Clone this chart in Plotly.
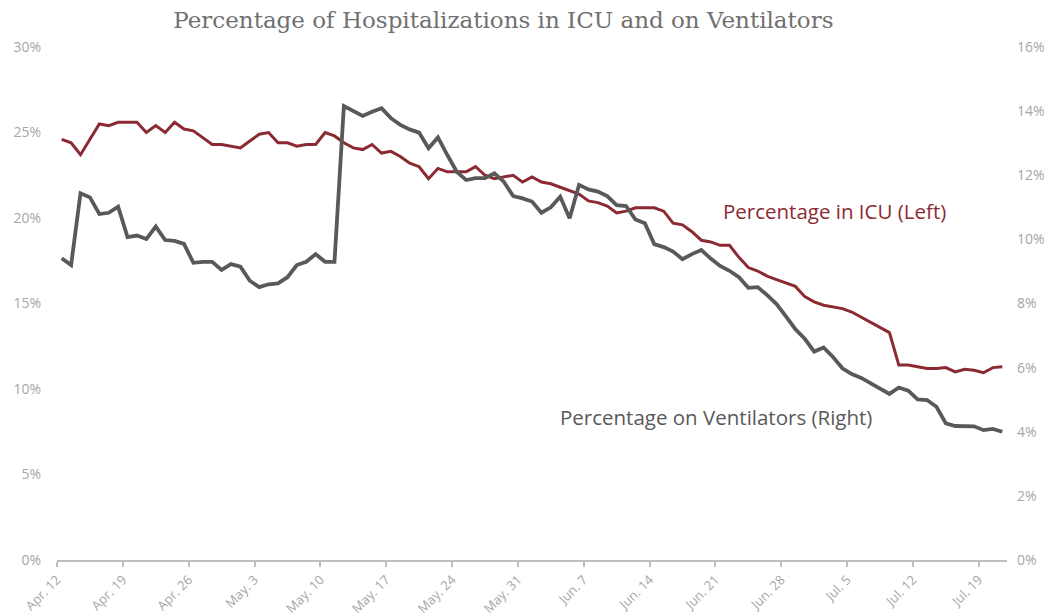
import pandas as pd
import plotly.graph_objects as go

dates = pd.date_range("2020-04-12", periods=101, freq="D")

icu_pct = [
    24.6, 24.4, 23.7, 24.6, 25.5, 25.4, 25.6, 25.6, 25.6, 25.0,
    25.4, 25.0, 25.6, 25.2, 25.1, 24.7, 24.3, 24.3, 24.2, 24.1,
    24.5, 24.9, 25.0, 24.4, 24.4, 24.2, 24.3, 24.3, 25.0, 24.8,
    24.4, 24.1, 24.0, 24.3, 23.8, 23.9, 23.6, 23.2, 23.0, 22.3,
    22.9, 22.7, 22.7, 22.7, 23.0, 22.5, 22.3, 22.4, 22.5, 22.1,
    22.4, 22.1, 22.0, 21.8, 21.6, 21.4, 21.0, 20.9, 20.7, 20.3,
    20.4, 20.6, 20.6, 20.6, 20.4, 19.7, 19.6, 19.2, 18.7, 18.6,
    18.4, 18.4, 17.7, 17.1, 16.9, 16.6, 16.4, 16.2, 16.0, 15.4,
    15.1, 14.9, 14.8, 14.7, 14.5, 14.2, 13.9, 13.6, 13.3, 11.4,
    11.4, 11.3, 11.2, 11.2, 11.25, 11.0, 11.15, 11.1, 10.95, 11.25,
    11.3,
]

vent_pct = [
    9.41, 9.20, 11.44, 11.31, 10.79, 10.83, 11.02, 10.07, 10.12, 10.01,
    10.40, 9.98, 9.95, 9.86, 9.27, 9.30, 9.30, 9.05, 9.23, 9.15,
    8.71, 8.51, 8.60, 8.63, 8.82, 9.20, 9.30, 9.54, 9.30, 9.30,
    14.16, 14.02, 13.85, 13.98, 14.09, 13.78, 13.57, 13.43, 13.33, 12.84,
    13.18, 12.63, 12.11, 11.85, 11.91, 11.91, 12.06, 11.80, 11.35, 11.28,
    11.18, 10.83, 11.00, 11.33, 10.66, 11.70, 11.56, 11.49, 11.35, 11.07,
    11.04, 10.62, 10.50, 9.85, 9.76, 9.62, 9.38, 9.54, 9.67, 9.40,
    9.17, 9.02, 8.82, 8.49, 8.51, 8.26, 7.98, 7.60, 7.20, 6.90,
    6.50, 6.63, 6.33, 5.98, 5.80, 5.68, 5.52, 5.36, 5.18, 5.38,
    5.28, 5.01, 4.99, 4.78, 4.26, 4.18, 4.18, 4.17, 4.05, 4.09,
    4.00,
]

tick_labels = [
    "Apr. 12", "Apr. 19", "Apr. 26", "May. 3", "May. 10", "May. 17", "May. 24",
    "May. 31", "Jun. 7", "Jun. 14", "Jun. 21", "Jun. 28", "Jul. 5", "Jul. 12", "Jul. 19",
]
left_ticks = [0, 5, 10, 15, 20, 25, 30]
right_ticks = [0, 2, 4, 6, 8, 10, 12, 14, 16]

half_day = pd.Timedelta(hours=12)
tick_positions = [dates[0] - half_day + pd.Timedelta(days=7 * i) for i in range(len(tick_labels))]

RED = "#8C2A33"
GRAY = "#595959"
TICK_GRAY = "#A6A6A6"

fig = go.Figure()
fig.add_trace(go.Scatter(
    x=dates, y=icu_pct, mode="lines", name="Percentage in ICU (Left)",
    line=dict(color=RED, width=3), yaxis="y",
))
fig.add_trace(go.Scatter(
    x=dates, y=vent_pct, mode="lines", name="Percentage on Ventilators (Right)",
    line=dict(color=GRAY, width=3.8), yaxis="y2",
))

# page body has an 8px default margin, so the figure is sized to fit 1062x616
fig.update_layout(
    width=1054, height=608,
    margin=dict(l=49, r=55, t=39, b=56, autoexpand=False),
    paper_bgcolor="white", plot_bgcolor="white",
    showlegend=False,
    title=dict(
        text="Percentage of Hospitalizations in ICU and on Ventilators",
        x=0.470, xanchor="center", y=0.980, yanchor="middle",
        font=dict(family="DejaVu Serif, serif", size=23, color="#707070"),
    ),
    xaxis=dict(
        type="date", automargin=False,
        range=[dates[0] - half_day, dates[-1] + half_day],
        tickmode="array", tickvals=tick_positions, ticktext=tick_labels,
        tickangle=-45, ticks="outside", ticklen=5, tickcolor="#BFBFBF", tickwidth=2,
        showline=True, linecolor="#BFBFBF", linewidth=2,
        showgrid=False, zeroline=False,
        tickfont=dict(family="Open Sans, sans-serif", size=13, color=TICK_GRAY),
    ),
    yaxis=dict(
        range=[0, 30], tickmode="array", tickvals=left_ticks, automargin=False,
        ticktext=[f"{v}%" for v in left_ticks],
        showgrid=False, zeroline=False, showline=False, ticks="",
        tickfont=dict(family="Open Sans, sans-serif", size=14, color=TICK_GRAY),
        ticklabelstandoff=15,
    ),
    yaxis2=dict(
        range=[0, 16], tickmode="array", tickvals=right_ticks, automargin=False,
        ticktext=[f"{v}%" for v in right_ticks],
        overlaying="y", side="right",
        showgrid=False, zeroline=False, showline=False, ticks="",
        tickfont=dict(family="Open Sans, sans-serif", size=14, color=TICK_GRAY),
        ticklabelstandoff=9,
    ),
    annotations=[
        dict(text="Percentage in ICU (Left)", xref="paper", yref="paper",
             x=0.818, y=0.680, showarrow=False, xanchor="center", yanchor="middle",
             font=dict(family="Open Sans, sans-serif", size=20.5, color=RED)),
        dict(text="Percentage on Ventilators (Right)", xref="paper", yref="paper",
             x=0.694, y=0.279, showarrow=False, xanchor="center", yanchor="middle",
             font=dict(family="Open Sans, sans-serif", size=20.5, color=GRAY)),
    ],
)

fig.write_html("out.html")
